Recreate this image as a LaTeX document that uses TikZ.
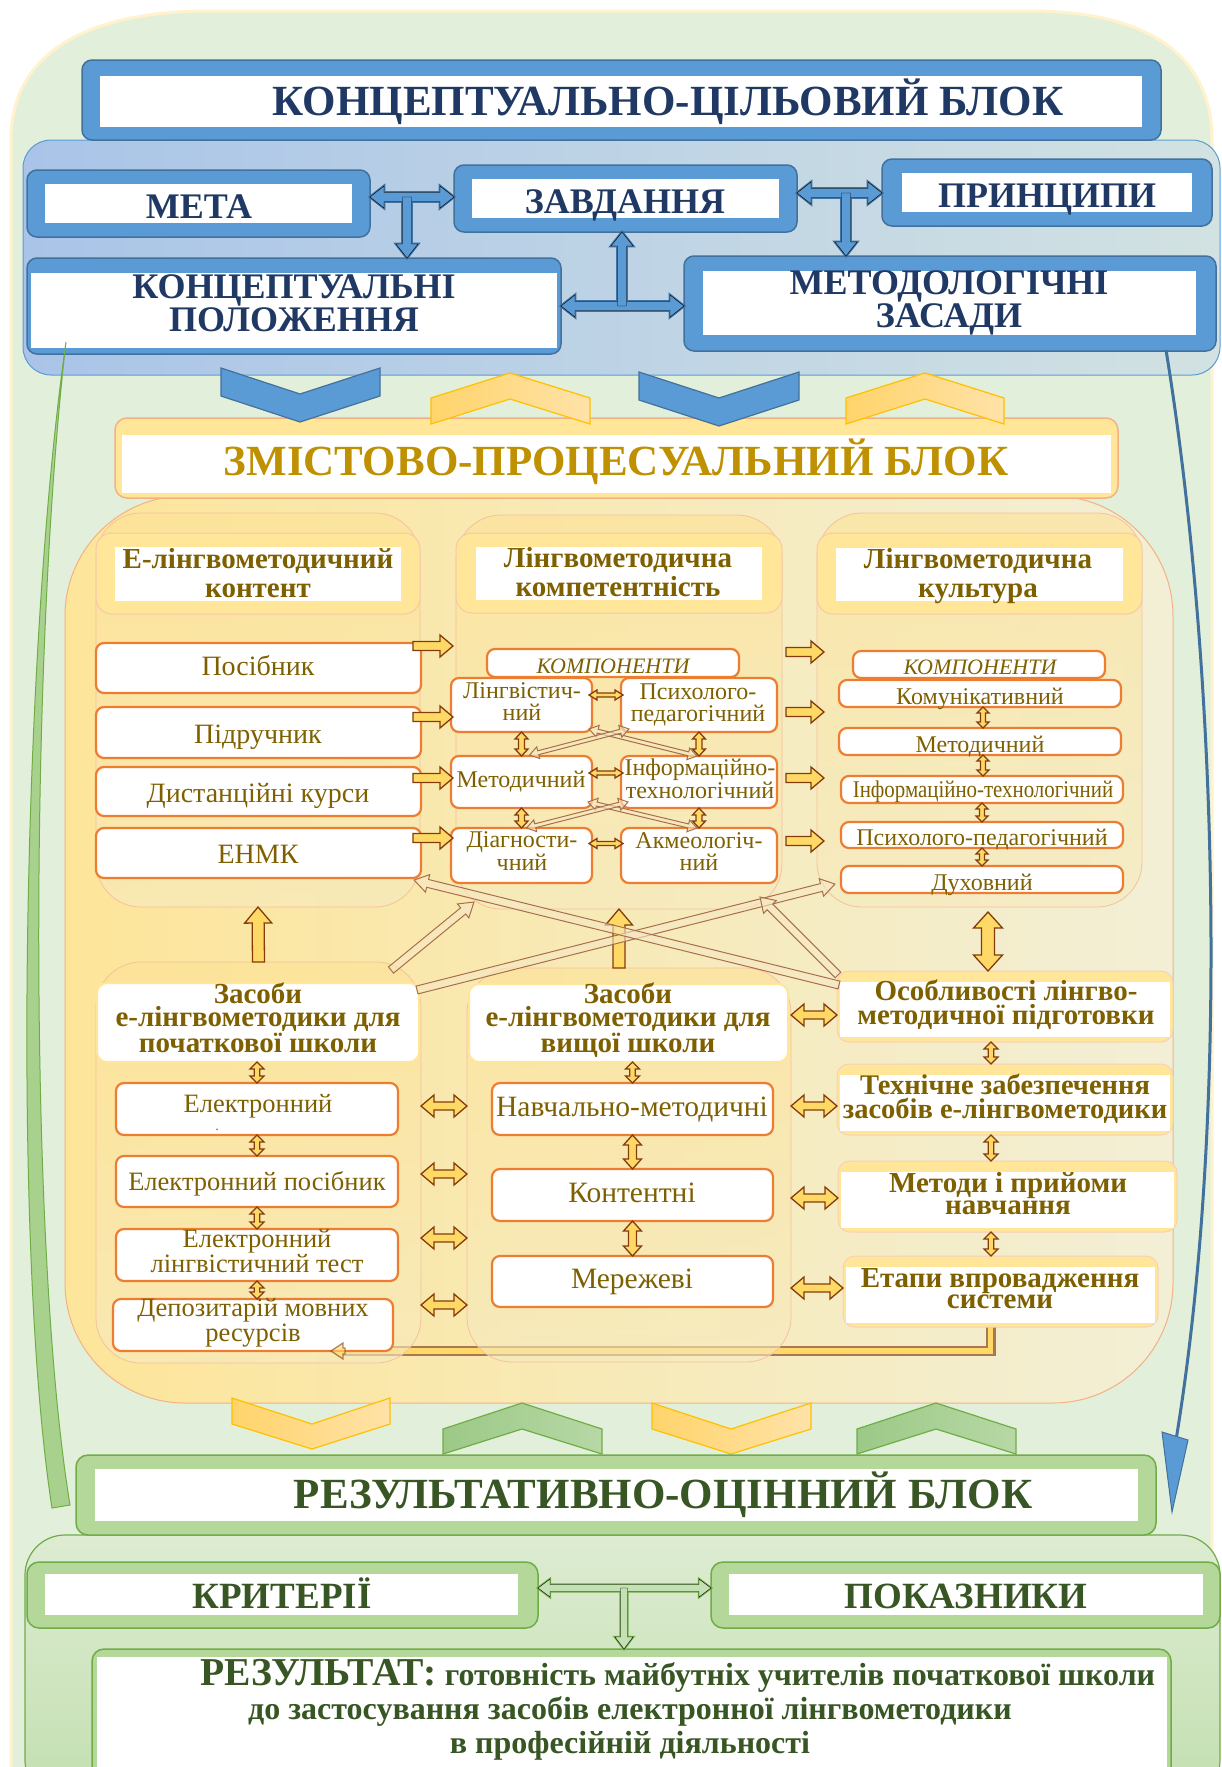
\documentclass[tikz,border=0pt]{standalone}
\usepackage{fontspec}
\setmainfont{Liberation Serif}
\usetikzlibrary{calc}
\definecolor{navy}{HTML}{1F3864}
\definecolor{bluef}{HTML}{5B9BD5}
\definecolor{blued}{HTML}{41719C}
\definecolor{olive}{HTML}{7F6000}
\definecolor{gold}{HTML}{BF9000}
\definecolor{orng}{HTML}{ED7D31}
\definecolor{peach}{HTML}{F4B183}
\definecolor{ylw}{HTML}{FFE699}
\definecolor{ylw2}{HTML}{FFD966}
\definecolor{brn}{HTML}{843C0C}
\definecolor{dgreen}{HTML}{375623}
\definecolor{mgreen}{HTML}{70AD47}
\definecolor{lgreen}{HTML}{A9D18E}
\definecolor{gfr}{HTML}{B4D79A}
\definecolor{gfl}{HTML}{C5E0B4}
\definecolor{bgG}{HTML}{E2EFDA}
\definecolor{paleY}{HTML}{FFF2CC}
\definecolor{tpL}{HTML}{A9C4E8}
\definecolor{tpR}{HTML}{D2E2E2}
\definecolor{mcL}{HTML}{FDE59A}
\definecolor{mcR}{HTML}{F2EFD6}
\definecolor{hbr}{HTML}{A8704A}
\definecolor{hfl}{HTML}{F6E7C4}
\definecolor{ychL}{HTML}{FFD46B}
\definecolor{ychR}{HTML}{FFE2A8}
\definecolor{ychD}{HTML}{FFC000}
\definecolor{gchL}{HTML}{9CC987}
\definecolor{gchR}{HTML}{B7D8A5}
\definecolor{gpL}{HTML}{DDECD2}
\definecolor{gpR}{HTML}{C3DFB0}
\definecolor{cbT}{HTML}{FDE296}
\definecolor{cbB}{HTML}{F6EBC0}

\pgfdeclarelayer{bglayer}
\pgfdeclarelayer{connlayer}
\pgfsetlayers{bglayer,connlayer,main}

\newcommand\fs[2]{\fontsize{#1}{#2}\selectfont}
\newcommand\mybx[7]{\node[#6,minimum width={#4-#2},minimum height={#5-#3},inner sep=0pt,outer sep=0pt] (#1) at ({(#2+#4)/2},{(#3+#5)/2}) {#7};}
\newcommand\blkarr[7]{%
  \path (#2); \pgfgetlastxy{\bkxa}{\bkya}%
  \path (#3); \pgfgetlastxy{\bkxb}{\bkyb}%
  \pgfmathsetmacro\bkang{atan2(\bkyb-\bkya,\bkxb-\bkxa)}%
  \pgfmathsetmacro\bklen{veclen(\bkxb-\bkxa,\bkyb-\bkya)}%
  \pgfmathsetmacro\bkm{\bklen-#6}%
  \begin{scope}[shift={(\bkxa,\bkya)},rotate=\bkang]
  \ifnum#7=2\relax
    \draw[#1] (0pt,0pt) -- (#6pt,#5pt) -- (#6pt,#4pt) -- (\bkm pt,#4pt) -- (\bkm pt,#5pt) -- (\bklen pt,0pt) -- (\bkm pt,-#5pt) -- (\bkm pt,-#4pt) -- (#6pt,-#4pt) -- (#6pt,-#5pt) -- cycle;
  \else
    \draw[#1] (0pt,#4pt) -- (\bkm pt,#4pt) -- (\bkm pt,#5pt) -- (\bklen pt,0pt) -- (\bkm pt,-#5pt) -- (\bkm pt,-#4pt) -- (0pt,-#4pt) -- cycle;
  \fi
  \end{scope}}

\begin{document}
\begin{tikzpicture}[x=1pt,y=-1pt,
 txt/.style={anchor=base,inner sep=0pt,outer sep=0pt,align=center},
 bframe/.style={fill=bluef,draw=blued,line width=1.5pt,rounded corners=10pt},
 wbox/.style={fill=white},
 yhead/.style={fill=ylw,draw=peach!70,line width=1pt,rounded corners=16pt},
 cback/.style={rounded corners=45pt,top color=cbT,bottom color=cbB,draw=peach!80,line width=0.8pt,fill opacity=0.6},
 item/.style={fill=white,draw=orng,line width=2.2pt,rounded corners=8pt},
 gframe/.style={fill=gfr,draw=mgreen,line width=1.5pt,rounded corners=12pt},
 yframe/.style={fill=ylw,draw=peach!60,line width=1pt,rounded corners=12pt},
 yarr/.style={fill=ylw2,draw=brn,line width=1.3pt},
 harr/.style={draw=hbr,line width=1pt,fill=hfl,fill opacity=0.6},
 barO/.style={fill=bluef,draw=blued,line width=2.6pt},
 barF/.style={fill=bluef},
 garO/.style={fill=gfl,draw=mgreen,line width=2.4pt},
 garF/.style={fill=gfl},
 bchev/.style={fill=bluef,draw=blued,line width=1.2pt},
 ychev/.style={left color=ychL,right color=ychR,draw=ychD,line width=1.2pt},
 gchev/.style={left color=gchL,right color=gchR,draw=mgreen,line width=1.2pt},
 hdr/.style={txt,font=\fs{36}{32}\bfseries,text=navy},
 big/.style={txt,font=\fs{43}{45}\bfseries},
 chead/.style={txt,font=\fs{29}{29}\bfseries,text=olive},
 itm/.style={txt,font=\fs{28}{28},text=olive},
 bitm/.style={txt,font=\fs{29.5}{28},text=olive},
 sm/.style={txt,font=\fs{24}{21.5},text=olive},
 kmp/.style={txt,font=\fs{22}{22}\itshape,text=olive},
 lbi/.style={txt,font=\fs{26.5}{21.5},text=olive},
 bhead/.style={txt,font=\fs{29}{23.5}\bfseries,text=olive},
 rbold/.style={txt,font=\fs{29}{23}\bfseries,text=olive},
 gtxt/.style={txt,font=\fs{37}{38}\bfseries,text=dgreen}
]
\useasboundingbox (0,0) rectangle (1222,1767);
\clip (0,0) rectangle (1222,1767);

\begin{pgfonlayer}{bglayer}
\fill[white] (0,0) rectangle (1222,1767);
\draw[fill=bgG,draw=paleY,line width=3pt] (11,140) .. controls (11,45) and (100,11) .. (210,11) -- (1030,11) .. controls (1140,11) and (1212,50) .. (1212,140) -- (1212,1900) -- (11,1900) -- cycle;
\mybx{midbox}{65}{496}{1173}{1403}{rounded corners=120pt,left color=mcL,right color=mcR,draw=peach,line width=1pt}{}
\end{pgfonlayer}

% ===== top block =====
\mybx{toppanel}{23}{140}{1220}{375}{rounded corners=28pt,left color=tpL,right color=tpR,draw=bluef,line width=1pt}{}
\mybx{kcb}{82}{60}{1161}{140}{bframe}{}
\mybx{kcbw}{100}{76}{1142}{127}{wbox}{}
\node[big,text=navy] (kcbt) at (668,115) {КОНЦЕПТУАЛЬНО-ЦІЛЬОВИЙ БЛОК};

\mybx{meta}{27}{170}{370}{237}{bframe}{}
\mybx{metaw}{45}{184}{352}{223}{wbox}{}
\node[hdr] (metat) at (199,218) {МЕТА};
\mybx{zavd}{454}{165}{797}{232}{bframe}{}
\mybx{zavdw}{472}{179}{779}{218}{wbox}{}
\node[hdr] (zavdt) at (625,213) {ЗАВДАННЯ};
\mybx{princ}{882}{159}{1212}{226}{bframe}{}
\mybx{princw}{902}{173}{1192}{212}{wbox}{}
\node[hdr] (princt) at (1047,207) {ПРИНЦИПИ};
\mybx{konc}{27}{258}{561}{354}{bframe}{}
\mybx{koncw}{31}{273}{557}{348}{wbox}{}
\node[hdr,font=\fs{36}{33}\bfseries] (konct) at (294,331) {КОНЦЕПТУАЛЬНІ\\ПОЛОЖЕННЯ};
\mybx{metod}{684}{256}{1216}{351}{bframe}{}
\mybx{metodw}{703}{271}{1196}{335}{wbox}{}
\node[hdr,font=\fs{36}{30}\bfseries] (metodt) at (949,327) {МЕТОДОЛОГІЧНІ\\ЗАСАДИ};

\coordinate (jA) at (407,197);
\coordinate (jB) at (846,193);
\coordinate (jC) at (622,306);
\blkarr{barO}{meta.east |- jA}{zavd.west |- jA}{4.5}{11}{14}{2}
\blkarr{barO}{jA}{jA |- konc.north}{4.5}{11}{14}{1}
\blkarr{barO}{zavd.east |- jB}{princ.west |- jB}{4.5}{11}{14}{2}
\blkarr{barO}{jB}{jB |- metod.north}{4.5}{11}{14}{1}
\blkarr{barO}{konc.east |- jC}{metod.west |- jC}{4.5}{11}{14}{2}
\blkarr{barO}{jC}{jC |- zavd.south}{4.5}{11}{14}{1}
\blkarr{barF}{meta.east |- jA}{zavd.west |- jA}{4.5}{11}{14}{2}
\blkarr{barF}{jA}{jA |- konc.north}{4.5}{11}{14}{1}
\blkarr{barF}{zavd.east |- jB}{princ.west |- jB}{4.5}{11}{14}{2}
\blkarr{barF}{jB}{jB |- metod.north}{4.5}{11}{14}{1}
\blkarr{barF}{konc.east |- jC}{metod.west |- jC}{4.5}{11}{14}{2}
\blkarr{barF}{jC}{jC |- zavd.south}{4.5}{11}{14}{1}

% ===== middle title =====
\mybx{zpb}{115}{418}{1118}{498}{rounded corners=12pt,fill=ylw,draw=peach,line width=1.5pt}{}
\mybx{zpbw}{122}{435}{1111}{493}{wbox}{}
\node[big,text=gold] (zpbt) at (616,475) {ЗМІСТОВО-ПРОЦЕСУАЛЬНИЙ БЛОК};

% chevrons top
\draw[bchev] (221,368) -- (300,394) -- (380,368) -- (380,396) -- (300,422) -- (221,396) -- cycle;
\draw[bchev] (639,372) -- (719,398) -- (799,372) -- (799,400) -- (719,426) -- (639,400) -- cycle;
\draw[ychev] (431,424) -- (510,399) -- (590,424) -- (590,398) -- (510,373) -- (431,398) -- cycle;
\draw[ychev] (846,424) -- (925,399) -- (1004,424) -- (1004,398) -- (925,373) -- (846,398) -- cycle;

% ===== column 1 =====
\mybx{c1back}{96}{513}{420}{907}{cback}{}
\mybx{c1h}{96}{533}{420}{614}{yhead}{}
\mybx{c1hw}{115}{547}{401}{601}{wbox}{}
\node[chead] (c1t) at (258,597) {Е-лінгвометодичний\\контент};
\mybx{posib}{96}{643}{421}{693}{item}{}
\node[itm] (posibt) at (258,675) {Посібник};
\mybx{pidr}{96}{707}{421}{758}{item}{}
\node[itm] (pidrt) at (258,743) {Підручник};
\mybx{dist}{96}{767}{421}{816}{item}{}
\node[itm] (distt) at (258,802) {Дистанційні курси};
\mybx{enmk}{96}{828}{421}{878}{item}{}
\node[itm] (enmkt) at (258,863) {ЕНМК};

% ===== column 2 =====
\mybx{c2back}{456}{515}{782}{909}{cback}{}
\mybx{c2h}{456}{533}{782}{613}{yhead}{}
\mybx{c2hw}{476}{547}{762}{600}{wbox}{}
\node[chead] (c2t) at (618,596) {Лінгвометодична\\компетентність};
\mybx{komp2}{487}{649}{739}{677}{item}{}
\node[kmp] (komp2t) at (613,673) {КОМПОНЕНТИ};
\mybx{lingv}{451}{678}{592}{732}{item}{}
\node[sm] (lingvt) at (522,720) {Лінгвістич-\\ний};
\mybx{psych}{621}{678}{777}{732}{item}{}
\node[sm] (psycht) at (698,721) {Психолого-\\педагогічний};
\mybx{metd}{451}{756}{592}{808}{item}{}
\node[sm] (metdt) at (521,787) {Методичний};
\mybx{inform}{621}{756}{777}{808}{item}{}
\node[sm] (informt) at (700,798) {Інформаційно-\\технологічний};
\mybx{diagn}{451}{828}{592}{883}{item}{}
\node[sm] (diagnt) at (522,870) {Діагности-\\чний};
\mybx{akmeo}{621}{828}{777}{883}{item}{}
\node[sm] (akmeot) at (699,870) {Акмеологіч-\\ний};

% ===== column 3 =====
\mybx{c3back}{817}{513}{1142}{907}{cback}{}
\mybx{c3h}{817}{533}{1142}{614}{yhead}{}
\mybx{c3hw}{836}{548}{1123}{601}{wbox}{}
\node[chead] (c3t) at (978,597) {Лінгвометодична\\культура};
\mybx{komp3}{853}{651}{1105}{678}{item}{}
\node[kmp] (komp3t) at (980,674) {КОМПОНЕНТИ};
\mybx{komun}{839}{680}{1121}{707}{item}{}
\node[sm] (komunt) at (980,704) {Комунікативний};
\mybx{metd3}{839}{728}{1121}{755}{item}{}
\node[sm] (metd3t) at (980,752) {Методичний};
\mybx{inf3}{841}{776}{1123}{803}{item}{}
\node[sm] (inf3t) at (983,797) {\scalebox{0.87}[1]{Інформаційно-технологічний}};
\mybx{psy3}{841}{822}{1123}{848}{item}{}
\node[sm] (psy3t) at (982,845) {Психолого-педагогічний};
\mybx{duh}{841}{866}{1123}{893}{item}{}
\node[sm] (duht) at (982,890) {Духовний};

% ===== lower containers =====
\mybx{zas1back}{96}{962}{421}{1363}{cback}{}
\mybx{zas1h}{97}{983}{419}{1062}{fill=white,draw=ylw,line width=2pt,rounded corners=10pt}{}
\node[bhead] (zas1t) at (258,1052) {Засоби\\е-лінгвометодики для\\початкової школи};
\mybx{el1}{116}{1083}{398}{1135}{item}{}
\node[lbi] (el1t) at (258,1112) {Електронний};
\node[txt,font=\fs{14}{14},text=olive] (eldot) at (217,1130) {.};
\mybx{elpos}{116}{1156}{398}{1207}{item}{}
\node[lbi] (elpost) at (257,1190) {Електронний посібник};
\mybx{eltest}{116}{1229}{398}{1281}{item}{}
\node[lbi] (eltestt) at (257,1272) {Електронний\\лінгвістичний тест};
\mybx{depoz}{113}{1299}{393}{1351}{item}{}
\node[lbi,font=\fs{26.5}{20}] (depozt) at (253,1341) {Депозитарій мовних\\ресурсів};

\mybx{zas2back}{467}{968}{791}{1362}{cback}{}
\mybx{zas2h}{469}{984}{788}{1062}{fill=white,draw=ylw,line width=2pt,rounded corners=10pt}{}
\node[bhead] (zas2t) at (628,1052) {Засоби\\е-лінгвометодики для\\вищої школи};
\mybx{navch}{492}{1083}{773}{1135}{item}{}
\node[bitm] (navcht) at (632,1116) {Навчально-методичні};
\mybx{kont}{492}{1169}{773}{1221}{item}{}
\node[bitm] (kontt) at (632,1202) {Контентні};
\mybx{merez}{492}{1256}{773}{1307}{item}{}
\node[bitm] (merezt) at (632,1288) {Мережеві};

\mybx{osob}{837}{971}{1173}{1042}{yframe}{}
\mybx{osobw}{840}{982}{1170}{1037}{wbox}{}
\node[rbold,font=\fs{29}{24}\bfseries] (osobt) at (1006,1024) {Особливості лінгво-\\методичної підготовки};
\mybx{tech}{837}{1064}{1173}{1135}{yframe}{}
\mybx{techw}{840}{1075}{1170}{1131}{wbox}{}
\node[rbold,font=\fs{28.5}{24}\bfseries] (techt) at (1005,1118) {Технічне забезпечення\\засобів е-лінгвометодики};
\mybx{metody}{838}{1161}{1177}{1232}{yframe}{}
\mybx{metodyw}{841}{1172}{1174}{1228}{wbox}{}
\node[rbold,font=\fs{29}{22}\bfseries] (metodyt) at (1008,1214) {Методи і прийоми\\навчання};
\mybx{etapy}{843}{1256}{1158}{1327}{yframe}{}
\mybx{etapyw}{846}{1267}{1155}{1323}{wbox}{}
\node[rbold,font=\fs{29}{21}\bfseries] (etapyt) at (1000,1308) {Етапи впровадження\\системи};

% bottom connector (under containers)
\begin{pgfonlayer}{connlayer}
\draw[line width=10pt,brn!70] ($(etapy.south)+(-10,0)$) |- ($(depoz.south east)+(-50,0)$);
\draw[line width=5.5pt,ylw2] ($(etapy.south)+(-10,-2)$) |- ($(depoz.south east)+(-50,0)$);
\end{pgfonlayer}
\blkarr{yarr,opacity=0.6}{$(depoz.south east)+(-48,0)$}{$(depoz.south east)+(-62,0)$}{3}{8}{12}{1}

% ===== yellow arrows, column level =====
\blkarr{yarr}{$(posib.east)+(-8,-22)$}{$(posib.east)+(32,-22)$}{4.5}{11}{13}{1}
\blkarr{yarr}{$(pidr.east)+(-8,-15.5)$}{$(pidr.east)+(32,-15.5)$}{4.5}{11}{13}{1}
\blkarr{yarr}{$(dist.east)+(-8,-13.5)$}{$(dist.east)+(32,-13.5)$}{4.5}{11}{13}{1}
\blkarr{yarr}{$(enmk.east)+(-8,-15)$}{$(enmk.east)+(32,-15)$}{4.5}{11}{13}{1}
\blkarr{yarr}{$(c2back.east)+(4,-60)$}{$(c2back.east)+(42,-60)$}{4.5}{11}{13}{1}
\blkarr{yarr}{$(c2back.east)+(4,0)$}{$(c2back.east)+(42,0)$}{4.5}{11}{13}{1}
\blkarr{yarr}{$(c2back.east)+(4,66)$}{$(c2back.east)+(42,66)$}{4.5}{11}{13}{1}
\blkarr{yarr}{$(c2back.east)+(4,129)$}{$(c2back.east)+(42,129)$}{4.5}{11}{13}{1}

% column 2 small arrows
\blkarr{yarr}{$(lingv.east)+(-3,-10)$}{$(psych.west)+(2,-10)$}{2}{5}{8}{2}
\blkarr{yarr}{$(metd.east)+(-3,-9)$}{$(inform.west)+(2,-9)$}{2}{5}{8}{2}
\blkarr{yarr}{$(diagn.east)+(-3,-12)$}{$(akmeo.west)+(2,-12)$}{2}{5}{8}{2}
\blkarr{yarr}{lingv.south}{metd.north}{3}{6.5}{7}{2}
\blkarr{yarr}{psych.south}{psych.south |- inform.north}{3}{6.5}{7}{2}
\blkarr{yarr}{metd.south}{diagn.north}{3}{6.5}{7}{2}
\blkarr{yarr}{inform.south}{inform.south |- akmeo.north}{3}{6.5}{7}{2}
\blkarr{harr}{$(lingv.south east)+(-3,-3)$}{$(inform.north)+(-2,0)$}{2}{6}{9}{2}
\blkarr{harr}{$(psych.south west)+(8,-3)$}{$(metd.north)+(8,-1)$}{2}{6}{9}{2}
\blkarr{harr}{$(metd.south east)+(-4,-6)$}{$(akmeo.north)+(-2,0)$}{2}{6}{9}{2}
\blkarr{harr}{$(inform.south west)+(7,-6)$}{$(diagn.north)+(5,0)$}{2}{6}{9}{2}

% column 3 small arrows
\blkarr{yarr}{$(komun.south)+(3,0)$}{$(metd3.north)+(3,0)$}{2.5}{6}{6}{2}
\blkarr{yarr}{$(metd3.south)+(3,0)$}{$(metd3.south |- inf3.north)+(3,0)$}{2.5}{6}{6}{2}
\blkarr{yarr}{inf3.south}{psy3.north}{2.5}{6}{6}{2}
\blkarr{yarr}{psy3.south}{duh.north}{2.5}{6}{6}{2}

% vertical connections between rows
\blkarr{yarr}{$(osob.north)+(-17,-59)$}{$(osob.north)+(-17,0)$}{6.5}{14.5}{16}{2}
\blkarr{yarr}{zas1back.north}{c1back.south}{6}{13.5}{16}{1}
\blkarr{yarr}{c2back.south |- zas2back.north}{c2back.south}{6}{13.5}{16}{1}

% lower small vertical arrows
\blkarr{yarr}{el1.north |- zas1h.south}{el1.north}{2.8}{7}{7}{2}
\blkarr{yarr}{el1.south}{elpos.north}{2.8}{7}{7}{2}
\blkarr{yarr}{elpos.south}{eltest.north}{2.8}{7}{7}{2}
\blkarr{yarr}{eltest.south}{eltest.south |- depoz.north}{2.8}{7}{7}{2}
\blkarr{yarr}{navch.north |- zas2h.south}{navch.north}{2.8}{7}{7}{2}
\blkarr{yarr}{navch.south}{kont.north}{4}{9}{10}{2}
\blkarr{yarr}{kont.south}{merez.north}{4}{9}{10}{2}
\blkarr{yarr}{$(osob.south)+(-14,0)$}{$(tech.north)+(-14,0)$}{2.8}{7}{7}{2}
\blkarr{yarr}{$(tech.south)+(-14,0)$}{$(tech.south |- metody.north)+(-14,0)$}{2.8}{7}{7}{2}
\blkarr{yarr}{$(tech.south |- metody.south)+(-14,0)$}{$(tech.south |- etapy.north)+(-14,0)$}{2.8}{7}{7}{2}

% lower horizontal double arrows
\coordinate (hl1) at (0,1106);
\coordinate (hl2) at (0,1174);
\coordinate (hl3) at (0,1238);
\coordinate (hl4) at (0,1305);
\coordinate (hr1) at (0,1015);
\coordinate (hr2) at (0,1106);
\coordinate (hr3) at (0,1198);
\coordinate (hr4) at (0,1288);
\blkarr{yarr}{zas1back.east |- hl1}{zas2back.west |- hl1}{4}{11}{13}{2}
\blkarr{yarr}{zas1back.east |- hl2}{zas2back.west |- hl2}{4}{11}{13}{2}
\blkarr{yarr}{zas1back.east |- hl3}{zas2back.west |- hl3}{4}{11}{13}{2}
\blkarr{yarr}{zas1back.east |- hl4}{zas2back.west |- hl4}{4}{11}{13}{2}
\blkarr{yarr}{zas2back.east |- hr1}{osob.west |- hr1}{4}{11}{13}{2}
\blkarr{yarr}{zas2back.east |- hr2}{tech.west |- hr2}{4}{11}{13}{2}
\blkarr{yarr}{zas2back.east |- hr3}{metody.west |- hr3}{4}{11}{13}{2}
\blkarr{yarr}{zas2back.east |- hr4}{etapy.west |- hr4}{4}{11}{13}{2}

% long hollow arrows
\blkarr{harr}{$(zas1h.north east)+(-2,7)$}{$(c3back.south west)+(18,-23)$}{4}{9}{14}{1}
\blkarr{harr}{$(zas1back.north east)+(-30,8)$}{$(c2back.south west)+(18,-7)$}{4}{9}{14}{1}
\blkarr{harr}{$(osob.north west)+(2,14)$}{$(c1back.south east)+(-6,-27)$}{4}{9}{14}{1}
\blkarr{harr}{$(osob.north west)+(1,4)$}{$(c2back.south east)+(-22,-12)$}{4}{9}{14}{1}

% ===== bottom block =====
\mybx{gpanel}{25}{1535}{1220}{1800}{rounded corners=40pt,top color=gpL,bottom color=gpR,draw=mgreen,line width=1.2pt}{}
\draw[ychev] (232,1398) -- (312,1424) -- (390,1398) -- (390,1424) -- (312,1449) -- (232,1424) -- cycle;
\draw[ychev] (652,1403) -- (731,1429) -- (811,1403) -- (811,1429) -- (731,1454) -- (652,1429) -- cycle;
\draw[gchev] (443,1454) -- (522,1429) -- (602,1454) -- (602,1429) -- (522,1403) -- (443,1429) -- cycle;
\draw[gchev] (857,1454) -- (936,1429) -- (1016,1454) -- (1016,1429) -- (936,1403) -- (857,1429) -- cycle;
\mybx{rtitle}{76}{1455}{1156}{1535}{gframe}{}
\mybx{rtitlew}{95}{1469}{1138}{1521}{wbox}{}
\node[big,text=dgreen] (rtitlet) at (663,1508) {РЕЗУЛЬТАТИВНО-ОЦІННИЙ БЛОК};

\mybx{kryt}{27}{1562}{538}{1628}{gframe}{}
\mybx{krytw}{45}{1574}{518}{1615}{wbox}{}
\node[gtxt] (krytt) at (282,1608) {КРИТЕРІЇ};
\mybx{pokaz}{711}{1562}{1220}{1628}{gframe}{}
\mybx{pokazw}{729}{1574}{1203}{1615}{wbox}{}
\node[gtxt] (pokazt) at (966,1608) {ПОКАЗНИКИ};
\mybx{rez}{92}{1649}{1171}{1800}{gframe}{}
\mybx{rezw}{97}{1657}{1167}{1800}{wbox}{}
\node[txt,font=\fs{32}{34}\bfseries,text=dgreen] (rezt) at (630,1753) {\hspace*{96pt}{\fs{39.5}{34}РЕЗУЛЬТАТ:} готовність майбутніх учителів початкової школи\\до застосування засобів електронної лінгвометодики\\в професійній діяльності};

\coordinate (jD) at (624,1588);
\blkarr{garO}{kryt.east |- jD}{pokaz.west |- jD}{3.5}{9}{12}{2}
\blkarr{garO}{jD}{jD |- rez.north}{3.5}{9}{12}{1}
\blkarr{garF}{kryt.east |- jD}{pokaz.west |- jD}{3.5}{9}{12}{2}
\blkarr{garF}{jD}{jD |- rez.north}{3.5}{9}{12}{1}

% ===== side curved arrows =====
\coordinate (gtip) at (66,342);
\coordinate (gtail) at (62,1508);
\draw[fill=lgreen,draw=mgreen,line width=1pt] (gtip) .. controls (22,650) and (12,1250) .. (52,1508) -- (70,1505) .. controls (28,1250) and (30,650) .. (gtip) -- cycle;
\coordinate (bstart) at (1166,350);
\coordinate (bend) at (1176,1440);
\draw[draw=blued,line width=3pt] (bstart) .. controls (1215,650) and (1232,1100) .. (bend);
\draw[fill=bluef,draw=blued,line width=1pt] (1162,1432) -- (1188,1440) -- (1172,1512) -- cycle;
\end{tikzpicture}
\end{document}
